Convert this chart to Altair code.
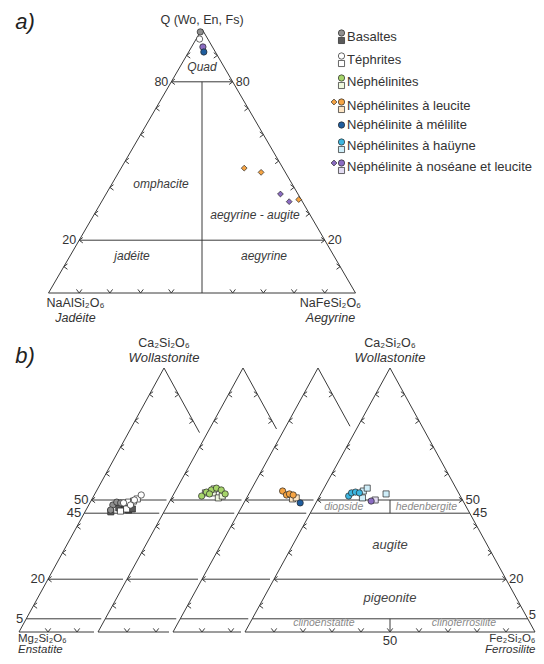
import altair as alt
import pandas as pd

# ======================= DATA =======================
# Legend / series
LEG_LABELS = ["Basaltes", "Téphrites", "Néphélinites", "Néphélinites à leucite",
              "Néphélinite à mélilite", "Néphélinites à haüyne",
              "Néphélinite à noséane et leucite"]
LEG_TYPES = [["cercle", "carré"], ["cercle", "carré"], ["cercle", "carré"],
             ["losange", "cercle", "carré"], ["cercle"], ["cercle", "carré"],
             ["losange", "cercle", "carré"]]

# Panel a) : Q (Wo+En+Fs), Ae in %  (Jd = 100 - Q - Ae)
a_serie = ["Basaltes", "Téphrites", "Néphélinite à noséane et leucite", "Néphélinite à mélilite",
           "Néphélinites à leucite", "Néphélinites à leucite", "Néphélinites à leucite",
           "Néphélinite à noséane et leucite", "Néphélinite à noséane et leucite"]
a_type = ["cercle", "cercle", "cercle", "cercle", "losange", "losange", "losange", "losange", "losange"]
a_Q = [98.9, 96.2, 93.2, 91.3, 47.3, 45.7, 35.4, 37.5, 34.6]
a_Ae = [0.0, 1.1, 3.7, 4.95, 40.1, 46.4, 63.8, 56.8, 61.1]

# Panel b) : Wo, Fs in %  (En = 100 - Wo - Fs)
b_serie = (["Basaltes"] * 9 + ["Téphrites"] * 9 + ["Néphélinites"] * 12 +
           ["Néphélinites à leucite"] * 6 + ["Néphélinite à mélilite"] +
           ["Néphélinites à haüyne"] * 8 + ["Néphélinite à noséane et leucite"] * 2)
b_type = (["carré"] * 5 + ["cercle"] * 4 +
          ["carré"] * 5 + ["cercle"] * 4 +
          ["carré"] * 5 + ["cercle"] * 7 +
          ["carré"] * 2 + ["cercle"] * 4 + ["cercle"] +
          ["carré"] * 4 + ["cercle"] * 4 +
          ["carré", "cercle"])
b_Wo = [45.5, 46.6, 46.2, 46.6, 47.0, 48.1, 49.2, 46.2, 48.9,
        49.2, 49.6, 50.4, 46.6, 45.8, 48.9, 51.9, 48.1, 50.0,
        52.7, 52.7, 50.8, 51.5, 54.2, 51.5, 53.0, 53.8, 54.5, 53.8, 52.3, 52.3,
        50.4, 50.8, 53.4, 51.9, 52.3, 51.9,
        48.9,
        50.8, 53.4, 54.5, 52.3, 51.5, 52.7, 53.0, 52.7,
        50.0, 49.6]
b_Fs = [8.9, 13.1, 14.7, 15.8, 10.9, 8.3, 9.1, 8.5, 10.6,
        13.2, 14.7, 15.6, 13.8, 12.1, 11.6, 16.2, 14.4, 14.8,
        10.7, 13.4, 16.1, 17.1, 13.0, 10.0, 10.9, 12.2, 13.6, 15.6, 17.7, 12.3,
        16.0, 17.1, 11.1, 13.2, 14.0, 15.5,
        19.4,
        15.1, 14.1, 14.9, 22.5, 10.0, 10.4, 11.6, 13.1,
        19.9, 18.7]
B_PANEL = {"Basaltes": 0, "Téphrites": 0, "Néphélinites": 1, "Néphélinites à leucite": 2,
           "Néphélinite à mélilite": 2, "Néphélinites à haüyne": 3,
           "Néphélinite à noséane et leucite": 3}

# Texts
A_LEVELS = [80, 20]
B_LEVELS = [50, 45, 20, 5]
A_FIELDS = ["Quad", "omphacite", "aegyrine - augite", "jadéite", "aegyrine"]
A_FIELDS_Q = [85.7, 41.3, 29.5, 14.0, 14.0]
A_FIELDS_AE = [7.15, 16.0, 52.5, 20.2, 63.2]
B_FIELDS_BIG = ["augite", "pigeonite"]
B_FIELDS_BIG_WO = [33.0, 12.9]
B_FIELDS_BIG_FS = [33.5, 43.55]
B_FIELDS_SMALL = ["diopside", "hedenbergite", "clinoenstatite", "clinoferrosilite"]
B_FIELDS_SMALL_WO = [47.3, 47.3, 3.4, 3.4]
B_FIELDS_SMALL_FS = [10.4, 38.9, 25.5, 73.8]

# ======================= STYLE =======================
FONT = "Liberation Sans"
TXT = "#333333"
LINE = "#3a3a3a"
STROKE = "#262626"
TYPES = ["cercle", "carré", "losange"]
SHAPES = ["circle", "square", "diamond"]
STYLE = {
    "Basaltes|cercle": "#8f8f8f", "Basaltes|carré": "#5a5a5a",
    "Téphrites|cercle": "#ffffff", "Téphrites|carré": "#ffffff",
    "Néphélinites|cercle": "#a6d46a", "Néphélinites|carré": "#eef7dd",
    "Néphélinites à leucite|cercle": "#f6a443", "Néphélinites à leucite|losange": "#f6a443",
    "Néphélinites à leucite|carré": "#fde5c4",
    "Néphélinite à mélilite|cercle": "#1f5d9e",
    "Néphélinites à haüyne|cercle": "#3db6e0", "Néphélinites à haüyne|carré": "#cfeef9",
    "Néphélinite à noséane et leucite|cercle": "#8b6cc2",
    "Néphélinite à noséane et leucite|losange": "#8b6cc2",
    "Néphélinite à noséane et leucite|carré": "#e3dcf2",
}

# ======================= GEOMETRY =======================
A_APEX_X, A_TOP_Y, A_BASE_Y, A_HW = 202, 29, 293, 153.5
B_APEX_X = [164, 243, 318, 390]
B_TOP_Y, B_BASE_Y, B_HW = 368, 632, 145
GAP = 4


def ta(q, ae):
    h = A_BASE_Y - A_TOP_Y
    return (A_APEX_X - A_HW + 2 * A_HW * (ae + q / 2) / 100, A_BASE_Y - h * q / 100)


def tb(k, wo, fs):
    h = B_BASE_Y - B_TOP_Y
    return (B_APEX_X[k] - B_HW + 2 * B_HW * (fs + wo / 2) / 100, B_BASE_Y - h * wo / 100)


segs = []


def seg(p, q):
    segs.append({"x": p[0], "y": p[1], "x2": q[0], "y2": q[1]})


# panel a frame
seg(ta(100, 0), ta(0, 0))
seg(ta(100, 0), ta(0, 100))
seg(ta(0, 0), ta(0, 100))
for q in A_LEVELS:
    seg(ta(q, 0), ta(q, 100 - q))
seg(ta(80, 10), ta(0, 50))

tick_l, tick_r, tick_b = [], [], []
for q in range(10, 100, 10):
    tick_l.append(ta(q, 0))
    tick_r.append(ta(q, 100 - q))
    if q != 50:
        tick_b.append(ta(0, q))

# panel b frames
for k in range(4):
    seg(tb(k, 100, 0), tb(k, 0, 0))
    for w in range(10, 100, 10):
        tick_l.append(tb(k, w, 0))
    if k == 3:
        seg(tb(k, 100, 0), tb(k, 0, 100))
        for w in B_LEVELS + [0]:
            seg(tb(k, w, 0), tb(k, w, 100 - w))
        seg(tb(k, 50, 25), tb(k, 45, 27.5))
        seg(tb(k, 5, 47.5), tb(k, 0, 50))
        for w in range(10, 100, 10):
            tick_r.append(tb(k, w, 100 - w))
            tick_b.append(tb(k, 0, w))
    else:
        for w in B_LEVELS + [0]:
            p = tb(k, w, 0)
            seg(p, (tb(k + 1, w, 0)[0] - GAP, p[1]))
        u = (B_APEX_X[k + 1] - B_APEX_X[k] - 2 * GAP) / (2 * B_HW)
        seg(tb(k, 100, 0), tb(k, 100 * (1 - u), 100 * u))
        for w in range(10, 100, 10):
            if (1 - w / 100) < u - 0.03:
                tick_r.append(tb(k, w, 100 - w))
        xlim = tb(k + 1, 0, 0)[0] - GAP - 2
        for f in range(10, 100, 10):
            p = tb(k, 0, f)
            if p[0] < xlim:
                tick_b.append(p)

# ======================= TABLES =======================
xs = alt.Scale(domain=[8, 536], nice=False, zero=False)
ys = alt.Scale(domain=[8, 656], nice=False, zero=False, reverse=True)
X = alt.X("x:Q", scale=xs, axis=None)
Y = alt.Y("y:Q", scale=ys, axis=None)

seg_df = pd.DataFrame(segs)
lines = alt.Chart(seg_df).mark_rule(color=LINE, strokeWidth=1).encode(
    x=X, y=Y, x2="x2:Q", y2="y2:Q")


def tick_layer(pts, path):
    df = pd.DataFrame(pts, columns=["x", "y"])
    return alt.Chart(df).mark_point(shape=path, filled=False, stroke=LINE,
                                    strokeWidth=1, size=13, opacity=1).encode(x=X, y=Y)


ticks = [tick_layer(tick_l, "M2,-1.5L0,0L2,1.5"),
         tick_layer(tick_r, "M-2,-1.5L0,0L-2,1.5"),
         tick_layer(tick_b, "M-1.5,-2L0,0L1.5,-2")]

rows = []
for s, t, q, ae in zip(a_serie, a_type, a_Q, a_Ae):
    x, y = ta(q, ae)
    rows.append({"x": x, "y": y, "type": t, "style": s + "|" + t})
for s, t, wo, fs in zip(b_serie, b_type, b_Wo, b_Fs):
    x, y = tb(B_PANEL[s], wo, fs)
    rows.append({"x": x, "y": y, "type": t, "style": s + "|" + t})

LEG_X_DIAM, LEG_X_SYM, LEG_X_TEXT = 334, 341.5, 347
LEG_Y = [37, 60, 82, 106, 125, 146, 167]
leg_rows, leg_text = [], []
for lab, types, y in zip(LEG_LABELS, LEG_TYPES, LEG_Y):
    leg_text.append((LEG_X_TEXT, y, lab))
    has_sq = "carré" in types
    for t in types:
        if t == "losange":
            leg_rows.append({"x": LEG_X_DIAM, "y": y - 4, "type": t, "style": lab + "|" + t})
        elif t == "cercle":
            leg_rows.append({"x": LEG_X_SYM, "y": y - 4 if has_sq else y, "type": t, "style": lab + "|" + t})
        else:
            leg_rows.append({"x": LEG_X_SYM, "y": y + 3.5, "type": t, "style": lab + "|" + t})


def point_layer(df, sizes):
    return alt.Chart(df).mark_point(filled=True, opacity=1, stroke=STROKE, strokeWidth=0.7).encode(
        x=X, y=Y,
        shape=alt.Shape("type:N", scale=alt.Scale(domain=TYPES, range=SHAPES), legend=None),
        fill=alt.Fill("style:N", scale=alt.Scale(domain=list(STYLE.keys()), range=list(STYLE.values())),
                      legend=None),
        size=alt.Size("type:O", scale=alt.Scale(domain=TYPES, range=sizes), legend=None))


pts = point_layer(pd.DataFrame(rows), [40, 34, 36])
leg_pts = point_layer(pd.DataFrame(leg_rows), [24, 18, 24])


def text_layer(items, align="center", italic=False, size=12, color=TXT):
    df = pd.DataFrame(items, columns=["x", "y", "t"])
    return alt.Chart(df).mark_text(align=align, baseline="middle", font=FONT, fontSize=size,
                                   fontStyle="italic" if italic else "normal",
                                   color=color).encode(x=X, y=Y, text="t:N")


texts = []
# panel tags
texts.append(text_layer([(25, 22, "a)"), (25, 356, "b)")], italic=True, size=22, color="#222222"))
# panel a
apex = ta(100, 0)
texts.append(text_layer([(apex[0], apex[1] - 9, "Q (Wo, En, Fs)")], size=12.5))
texts.append(text_layer([(ta(q, 0)[0] - 3, ta(q, 0)[1], str(q)) for q in A_LEVELS], align="right", size=12.5))
texts.append(text_layer([(ta(q, 100 - q)[0] + 3, ta(q, 100 - q)[1], str(q)) for q in A_LEVELS], align="left", size=12.5))
texts.append(text_layer([(ta(q, ae)[0], ta(q, ae)[1], t) for t, q, ae in zip(A_FIELDS, A_FIELDS_Q, A_FIELDS_AE)],
                        italic=True, size=12, color="#3a3a3a"))
jd, ae_c = ta(0, 0), ta(0, 100)
texts.append(text_layer([(jd[0] + 27, jd[1] + 10, "NaAlSi₂O₆"), (ae_c[0] - 25, ae_c[1] + 10, "NaFeSi₂O₆")], size=12.5))
texts.append(text_layer([(jd[0] + 27, jd[1] + 25, "Jadéite"), (ae_c[0] - 25, ae_c[1] + 25, "Aegyrine")],
                        italic=True, size=12.5))
# legend
texts.append(text_layer(leg_text, align="left", size=13))
# panel b
wl = []
for k in (0, 3):
    top = tb(k, 100, 0)
    wl.append((top[0], top[1] - 25, "Ca₂Si₂O₆"))
texts.append(text_layer(wl, size=12.5))
texts.append(text_layer([(tb(k, 100, 0)[0], tb(k, 100, 0)[1] - 10, "Wollastonite") for k in (0, 3)],
                        italic=True, size=13))
texts.append(text_layer([(tb(0, w, 0)[0] - 3, tb(0, w, 0)[1], str(w)) for w in B_LEVELS], align="right", size=13))
texts.append(text_layer([(tb(3, w, 100 - w)[0] + 3, tb(3, w, 100 - w)[1], str(w)) for w in B_LEVELS[:-1]],
                        align="left", size=13))
p5 = tb(3, B_LEVELS[-1], 100 - B_LEVELS[-1])
texts.append(text_layer([(536, p5[1] - 4, str(B_LEVELS[-1]))], align="right", size=13))
texts.append(text_layer([(tb(3, 0, 50)[0], tb(3, 0, 50)[1] + 9, "50")], size=13))
texts.append(text_layer([(tb(3, w, f)[0], tb(3, w, f)[1], t)
                         for t, w, f in zip(B_FIELDS_BIG, B_FIELDS_BIG_WO, B_FIELDS_BIG_FS)],
                        italic=True, size=13, color="#444444"))
texts.append(text_layer([(tb(3, w, f)[0], tb(3, w, f)[1], t)
                         for t, w, f in zip(B_FIELDS_SMALL, B_FIELDS_SMALL_WO, B_FIELDS_SMALL_FS)],
                        italic=True, size=10.5, color="#8a8a8a"))
en, fe = tb(0, 0, 0), tb(3, 0, 100)
texts.append(text_layer([(en[0] - 1, en[1] + 6.5, "Mg₂Si₂O₆")], align="left", size=11.5))
texts.append(text_layer([(en[0] - 1, en[1] + 17.8, "Enstatite")], align="left", italic=True, size=11.5))
texts.append(text_layer([(535.5, fe[1] + 6.5, "Fe₂Si₂O₆")], align="right", size=11.5))
texts.append(text_layer([(535.5, fe[1] + 17.8, "Ferrosilite")], align="right", italic=True, size=11.5))

chart = alt.layer(lines, *ticks, pts, leg_pts, *texts).properties(
    width=528, height=648, padding=0, autosize=alt.AutoSizeParams(type="none")
).configure_view(stroke=None)

chart.save("out.html", embed_options={"renderer": "svg", "actions": False})
